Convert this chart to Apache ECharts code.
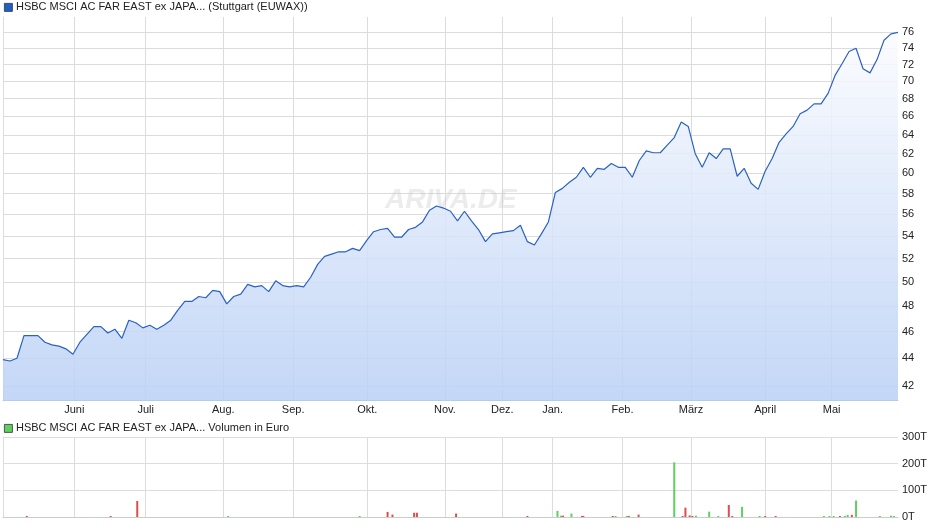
<!DOCTYPE html>
<html><head><meta charset="utf-8">
<script src="https://cdn.jsdelivr.net/npm/echarts@6/dist/echarts.min.js"></script>
<style>html,body{margin:0;padding:0;background:#fff}#c{width:940px;height:526px}</style>
</head><body><div id="c"></div>
<script>
var prices = [43.9,43.8,44.0,45.7,45.7,45.7,45.2,45.0,44.9,44.7,44.3,45.2,45.8,46.4,46.4,45.9,46.2,45.5,46.9,46.7,
46.3,46.5,46.2,46.5,46.9,47.7,48.4,48.4,48.8,48.7,49.3,49.2,48.2,48.8,49.0,49.8,49.6,49.7,49.2,50.1,
49.7,49.6,49.7,49.6,50.4,51.5,52.2,52.4,52.6,52.6,52.9,52.7,53.6,54.4,54.6,54.7,53.9,53.9,54.6,54.8,
55.3,56.4,56.8,56.6,56.3,55.4,56.3,55.4,54.6,53.5,54.2,54.3,54.4,54.5,55.0,53.5,53.2,54.2,55.3,58.1,
58.5,59.1,59.6,60.6,59.6,60.5,60.4,61.0,60.6,60.6,59.6,61.3,62.3,62.1,62.1,62.9,63.7,65.4,64.9,62.0,
60.6,62.1,61.5,62.5,62.5,59.7,60.5,59.0,58.4,60.2,61.5,63.2,64.1,64.9,66.3,66.7,67.4,67.4,68.6,70.7,
72.1,73.6,74.0,71.5,71.0,72.6,75.0,75.8,76.0];
var priceTicks = [42,44,46,48,50,52,54,56,58,60,62,64,66,68,70,72,74,76];
var months = ['Juni','Juli','Aug.','Sep.','Okt.','Nov.','Dez.','Jan.','Feb.','März','April','Mai'];
var monthPos = [10.2,20.4,31.5,41.5,52.1,63.2,71.4,78.6,88.6,98.4,109,118.5];
var volIdx = [3.4,15.4,19.2,32.2,51.0,55.0,55.7,58.8,59.2,64.8,75.0,79.3,79.8,80.1,81.3,82.8,83.0,87.2,87.6,89.2,89.5,90.9,96.0,97.2,97.6,98.2,98.6,99.1,101.0,102.3,103.8,104.3,105.7,108.2,109.0,110.5,117.4,118.2,118.8,119.7,120.4,120.8,121.4,122.0,125.4,127.0,127.4];
var volVal = [4,3,60,2,4,19,9,16,16,13,4,23,5,5,13,4,4,3,3,4,4,9,205,3,35,6,4,5,20,3,45,3,38,4,3,4,2,2,2,2,4,8,8,62,2,5,3];
var volUp = [0,0,0,1,1,0,0,0,0,0,0,1,1,0,1,0,0,0,1,1,0,0,1,0,0,0,0,1,1,1,0,0,1,1,0,0,1,1,1,0,1,1,0,1,1,1,1];

var F = 'Liberation Sans, Arial, sans-serif';
var chart = echarts.init(document.getElementById('c'));
var lnMin = Math.log(42) - 14/596.5, lnMax = Math.log(76) + 15.3/596.5;
var n = prices.length - 1;
var gl = {color:'#dcdcdc',type:'solid',width:1};
chart.setOption({
  animation:false,
  grid:[{left:3,top:17,width:895,height:383},{left:3,top:437,width:895,height:80}],
  xAxis:[
    {gridIndex:0,type:'value',min:0,max:n,axisLabel:{show:false},axisTick:{show:false},splitLine:{show:false},
     axisLine:{lineStyle:{color:'#b3cbef'}}},
    {gridIndex:1,type:'value',min:0,max:n,axisLabel:{show:false},axisTick:{show:false},splitLine:{show:false},
     axisLine:{lineStyle:{color:'#cccccc'}}}
  ],
  yAxis:[
    {gridIndex:0,type:'value',position:'right',min:lnMin,max:lnMax,axisLabel:{show:false},axisTick:{show:false},splitLine:{show:false},
     axisLine:{show:true,lineStyle:{color:'#dddddd'}}},
    {gridIndex:1,type:'value',position:'right',min:0,max:300,interval:100,
     axisLabel:{fontFamily:F,fontSize:11,color:'#222',formatter:'{value}T',margin:4},
     axisTick:{show:false},axisLine:{show:true,lineStyle:{color:'#dddddd'}},
     splitLine:{lineStyle:{color:'#dddddd'}}}
  ],
  series:[
    {type:'line',xAxisIndex:0,yAxisIndex:0,z:0,zlevel:0,data:[],
     markLine:{silent:true,symbol:'none',animation:false,precision:10,z:0,
       data:priceTicks.map(function(t){return {yAxis:Math.log(t),name:String(t),lineStyle:gl,
         label:{position:'end',formatter:'{b}',fontFamily:F,fontSize:11,color:'#222',distance:4}};})
        .concat(monthPos.map(function(p,k){return {xAxis:p,name:months[k],lineStyle:gl,
         label:{position:'start',formatter:'{b}',fontFamily:F,fontSize:11,color:'#222',distance:4}};}))
     }},
    {type:'line',xAxisIndex:0,yAxisIndex:0,symbol:'none',z:10,
     data:prices.map(function(v,i){return [i,Math.log(v)];}),
     lineStyle:{color:'#2a62c4',width:1.2},
     areaStyle:{opacity:0.85,color:new echarts.graphic.LinearGradient(0,0,0,1,[{offset:0,color:'#fbfcff'},{offset:1,color:'#b9d0f5'}])}},
    {type:'bar',xAxisIndex:1,yAxisIndex:1,barWidth:2,barMinHeight:1,z:10,
     data:volIdx.map(function(x,i){return {value:[x,volVal[i]],itemStyle:{color:volUp[i]?'#5fcf5f':'#de4d4d'}};}),
     markLine:{silent:true,symbol:'none',animation:false,precision:10,z:0,
       data:monthPos.map(function(p){return {xAxis:p,lineStyle:gl,label:{show:false}};})}}
  ],
  graphic:[
    {type:'rect',left:4,top:3,shape:{width:8,height:8},style:{fill:'#1f5fc8',stroke:'#333',lineWidth:0.8}},
    {type:'text',left:16,top:1,style:{text:'HSBC MSCI AC FAR EAST ex JAPA... (Stuttgart (EUWAX))',font:'11px '+F,fill:'#222'}},
    {type:'rect',left:4,top:424,shape:{width:8,height:8},style:{fill:'#5fcf5f',stroke:'#333',lineWidth:0.8}},
    {type:'text',left:16,top:422,style:{text:'HSBC MSCI AC FAR EAST ex JAPA... Volumen in Euro',font:'11px '+F,fill:'#222'}},
    {type:'text',left:385,top:186,z:5,style:{text:'ARIVA.DE',font:'italic bold 28px '+F,fill:'rgba(200,200,200,0.35)'}}
  ]
});
</script></body></html>
